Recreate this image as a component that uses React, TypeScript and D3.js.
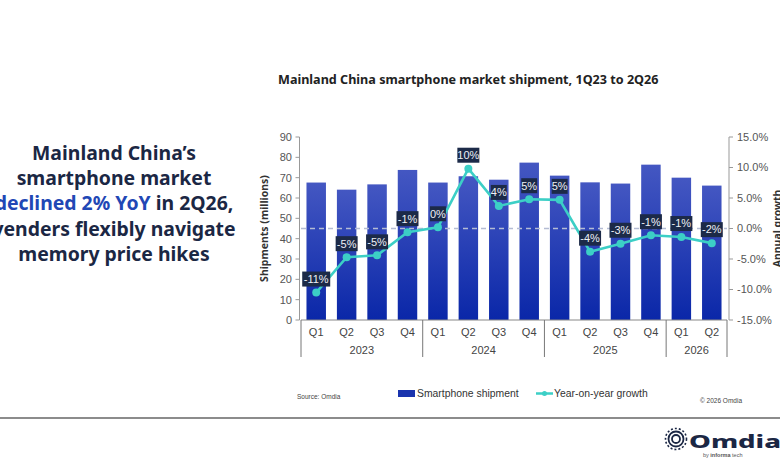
import * as d3 from 'd3';

const quarters = ['Q1', 'Q2', 'Q3', 'Q4', 'Q1', 'Q2', 'Q3', 'Q4', 'Q1', 'Q2', 'Q3', 'Q4', 'Q1', 'Q2'];
const yearLabels = ['2023', '2024', '2025', '2026'];
const quartersPerYear = [4, 4, 4, 2];
const shipments = [67.6, 64.1, 66.7, 73.8, 67.6, 70.7, 69.0, 77.4, 71.0, 67.7, 67.1, 76.4, 70.0, 66.1];
const yoyGrowth = [-10.5, -4.7, -4.4, -0.6, 0.2, 9.8, 3.7, 4.8, 4.7, -3.8, -2.5, -1.1, -1.4, -2.4];
const yoyLabels = ['-11%', '-5%', '-5%', '-1%', '0%', '10%', '4%', '5%', '5%', '-4%', '-3%', '-1%', '-1%', '-2%'];
const leftTicks = [0, 10, 20, 30, 40, 50, 60, 70, 80, 90];
const rightTicks = [15, 10, 5, 0, -5, -10, -15];

const headline = [
  [{ t: 'Mainland China\u2019s', c: '#1b2744' }],
  [{ t: 'smartphone market', c: '#1b2744' }],
  [{ t: 'declined 2% YoY', c: '#2147b5' }, { t: ' in 2Q26,', c: '#1b2744' }],
  [{ t: 'venders flexibly navigate', c: '#1b2744' }],
  [{ t: 'memory price hikes', c: '#1b2744' }],
];

const FONT = '"Noto Sans", "Open Sans", sans-serif';
const BODY = '"Liberation Sans", Arial, sans-serif';

export default function App() {
  const W = 780;
  const H = 470;
  const plot = { left: 301, right: 727, top: 137, bottom: 320 };

  const step = (plot.right - plot.left) / quarters.length;
  const cx = (i: number) => plot.left + step * (i + 0.5);
  const bw = step * 0.64;

  const yL = d3.scaleLinear().domain([0, 90]).range([plot.bottom, plot.top]);
  const yR = d3.scaleLinear().domain([-15, 15]).range([plot.bottom, plot.top]);

  const line = d3.line<number>()
    .x((_, i) => cx(i))
    .y(d => yR(d));

  // year group boundaries
  const bounds: number[] = [0];
  quartersPerYear.forEach(n => bounds.push(bounds[bounds.length - 1] + n));

  return (
    <svg width={W} height={H} style={{ position: 'absolute', left: 0, top: 0, background: '#fff', fontFamily: BODY }}>
      <defs>
        <linearGradient id="barGrad" x1="0" y1="0" x2="0" y2="1">
          <stop offset="0%" stopColor="#4457c2" />
          <stop offset="100%" stopColor="#0a27a8" />
        </linearGradient>
      </defs>

      {/* headline on the left */}
      <text x={114} y={160} textAnchor="middle" fontSize={19.4} fontWeight={700} fontFamily={FONT}>
        {headline.map((ln, i) => (
          <tspan key={i} x={114} dy={i === 0 ? 0 : 25.2}>
            {ln.map((s, j) => <tspan key={j} fill={s.c}>{s.t}</tspan>)}
          </tspan>
        ))}
      </text>

      {/* chart title */}
      <text x={278} y={84} fontSize={12.6} fontWeight={700} fill="#222" fontFamily={FONT}>
        Mainland China smartphone market shipment, 1Q23 to 2Q26
      </text>

      {/* bars */}
      {shipments.map((v, i) => (
        <rect key={i} x={cx(i) - bw / 2} y={yL(v)} width={bw} height={yL(0) - yL(v)} fill="url(#barGrad)" />
      ))}

      {/* zero growth dashed line */}
      <line x1={plot.left} x2={plot.right} y1={yR(0)} y2={yR(0)} stroke="#b4bcd4" strokeWidth={1.3} strokeDasharray="5,4" />

      {/* left axis */}
      <line x1={299.5} x2={299.5} y1={plot.top} y2={plot.bottom} stroke="#999" />
      {leftTicks.map(t => (
        <g key={t}>
          <line x1={295.5} x2={299.5} y1={yL(t)} y2={yL(t)} stroke="#999" />
          <text x={292} y={yL(t)} dy="0.35em" textAnchor="end" fontSize={11} fill="#555">{t}</text>
        </g>
      ))}
      <text transform={`translate(268,${(plot.top + plot.bottom) / 2}) rotate(-90)`} textAnchor="middle" fontSize={10.5} fontWeight={700} fill="#333" fontFamily={FONT}>
        Shipments (millions)
      </text>

      {/* right axis */}
      <line x1={729} x2={729} y1={plot.top} y2={plot.bottom} stroke="#999" />
      {rightTicks.map(t => (
        <g key={t}>
          <line x1={729} x2={733} y1={yR(t)} y2={yR(t)} stroke="#999" />
          <text x={737} y={yR(t)} dy="0.35em" fontSize={11} fill="#555">{`${t.toFixed(1)}%`}</text>
        </g>
      ))}
      <text transform={`translate(781,${(plot.top + plot.bottom) / 2}) rotate(-90)`} textAnchor="middle" fontSize={10.5} fontWeight={700} fill="#333" fontFamily={FONT}>
        Annual growth
      </text>

      {/* x axis */}
      <line x1={plot.left} x2={plot.right} y1={plot.bottom} y2={plot.bottom} stroke="#888" />
      {quarters.map((q, i) => (
        <text key={i} x={cx(i)} y={332} dy="0.35em" textAnchor="middle" fontSize={11} fill="#444">{q}</text>
      ))}
      {bounds.map((b, i) => (
        <line key={i} x1={plot.left + step * b} x2={plot.left + step * b} y1={plot.bottom} y2={357} stroke="#777" />
      ))}
      {yearLabels.map((yr, i) => (
        <text key={yr} x={plot.left + step * (bounds[i] + bounds[i + 1]) / 2} y={350} dy="0.35em" textAnchor="middle" fontSize={11} fill="#444">{yr}</text>
      ))}

      {/* growth line */}
      <path d={line(yoyGrowth) || ''} fill="none" stroke="#3ccfc6" strokeWidth={2.6} />
      {yoyGrowth.map((v, i) => (
        <circle key={i} cx={cx(i)} cy={yR(v)} r={4} fill="#3ccfc6" />
      ))}
      {yoyGrowth.map((v, i) => {
        const w = yoyLabels[i].length * 6 + 4;
        return (
          <g key={i}>
            <rect x={cx(i) - w / 2} y={yR(v) - 21} width={w} height={15} fill="#1c2a48" />
            <text x={cx(i)} y={yR(v) - 13.5} dy="0.35em" textAnchor="middle" fontSize={11} fill="#eef0f6">{yoyLabels[i]}</text>
          </g>
        );
      })}

      {/* legend */}
      <rect x={398} y={390} width={17} height={7} fill="#1a34ae" />
      <text x={417} y={393.5} dy="0.35em" fontSize={10.4} fill="#333">Smartphone shipment</text>
      <line x1={536} x2={553} y1={393.5} y2={393.5} stroke="#3ccfc6" strokeWidth={2.5} />
      <circle cx={544.5} cy={393.5} r={2.5} fill="#3ccfc6" />
      <text x={554} y={393.5} dy="0.35em" fontSize={10.4} fill="#333">Year-on-year growth</text>

      <text x={297} y={397} dy="0.35em" fontSize={6.5} fill="#444">Source: Omdia</text>
      <text x={700} y={401} dy="0.35em" fontSize={6.5} fill="#444">© 2026 Omdia</text>

      {/* footer rule and logo */}
      <line x1={0} x2={W} y1={418} y2={418} stroke="#666" strokeWidth={1.5} />
      <g transform="translate(676,439)">
        <circle r={10.5} fill="none" stroke="#1b2744" strokeWidth={1.6} strokeDasharray="2,2" />
        <circle r={7.5} fill="none" stroke="#1b2744" strokeWidth={1.8} />
        <circle r={4} fill="none" stroke="#1b2744" strokeWidth={1.8} />
      </g>
      <text x={689} y={448} fontSize={17} fontWeight={800} fill="#1b2744" fontFamily={FONT} textLength={92} lengthAdjust="spacingAndGlyphs">Omdia</text>
      <text x={703} y={457} fontSize={5.5} fill="#555">by <tspan fontWeight={700}>informa</tspan> tech</text>
    </svg>
  );
}
